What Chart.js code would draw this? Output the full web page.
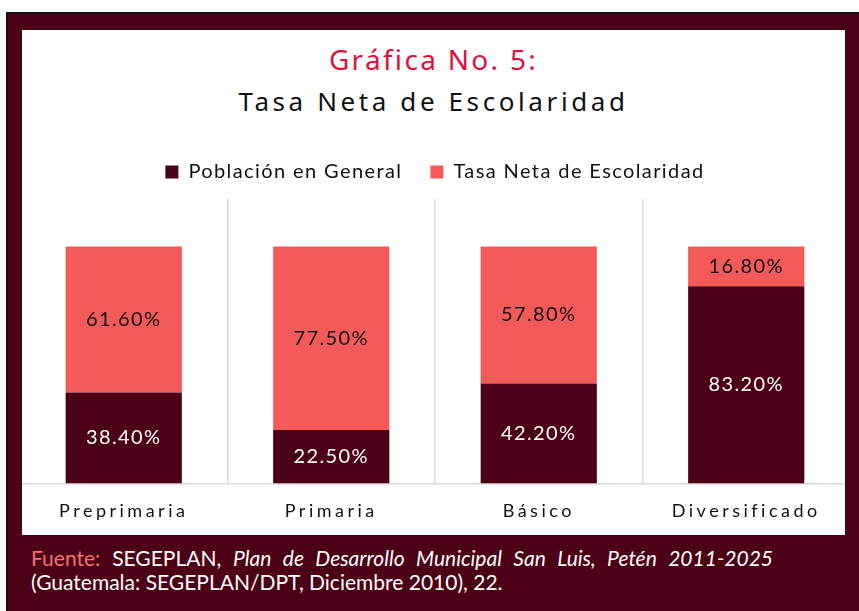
<!DOCTYPE html>
<html>
<head>
<meta charset="utf-8">
<script src="https://cdn.jsdelivr.net/npm/chart.js@4/dist/chart.umd.min.js"></script>
<style>
  html, body { margin: 0; padding: 0; background: #fff; }
  body { width: 859px; height: 611px; position: relative; overflow: hidden; }
  #frame {
    position: absolute; left: 6px; top: 12px; width: 860px; height: 610px;
    background: #4c0016; border-top: 2px solid #111; border-left: 2px solid #111;
    box-sizing: border-box;
  }
  #panel {
    position: absolute; left: 22px; top: 30px; width: 823px; height: 505px;
    background: #fff; overflow: hidden;
  }
  .title {
    position: absolute; left: 0; width: 100%; text-align: center;
    font-family: "Noto Sans", sans-serif; white-space: nowrap;
  }
  #t1 { top: 10px; font-size: 28px; color: #e0103c; letter-spacing: 2.3px; }
  #t2 { top: 53px; font-size: 26px; color: #111; letter-spacing: 3.6px; }
  #wrap { position: absolute; left: -2px; top: 92px; width: 830px; height: 429px; }
  #foot {
    position: absolute; left: 31px; top: 546px; width: 742px;
    font-family: Lato, sans-serif; font-size: 21px; line-height: 24px; color: #fff;
  }
  #foot .l1 { text-align: justify; text-align-last: justify; white-space: nowrap; }
  #foot .src { color: #f27272; }
</style>
</head>
<body>
<div id="frame"></div>
<div id="panel">
  <div class="title" id="t1">Gráfica No. 5:</div>
  <div class="title" id="t2">Tasa Neta de Escolaridad</div>
  <div id="wrap"><canvas id="grafica"></canvas></div>
</div>
<div id="foot">
  <div class="l1"><span class="src">Fuente:</span> SEGEPLAN, <i>Plan de Desarrollo Municipal San Luis, Petén 2011-2025</i></div>
  <div>(Guatemala: SEGEPLAN/DPT, Diciembre 2010), 22.</div>
</div>

<script>
const niveles = ['Preprimaria', 'Primaria', 'Básico', 'Diversificado'];
const poblacionGeneral = [38.4, 22.5, 42.2, 83.2];
const tasaNeta = [61.6, 77.5, 57.8, 16.8];

const granate = '#4c0016';
const salmon = '#f45a5a';

// etiquetas de porcentaje centradas en cada segmento
const etiquetas = {
  id: 'etiquetas',
  afterDatasetsDraw(chart) {
    const ctx = chart.ctx;
    ctx.save();
    ctx.font = '20px Lato, sans-serif';
    ctx.textAlign = 'center';
    ctx.textBaseline = 'middle';
    chart.data.datasets.forEach((ds, i) => {
      chart.getDatasetMeta(i).data.forEach((bar, j) => {
        const p = bar.getCenterPoint();
        ctx.fillStyle = i === 0 ? '#fff' : '#111';
        ctx.fillText(ds.data[j].toFixed(2) + '%', p.x, p.y);
      });
    });
    ctx.restore();
  }
};

// texto algo más espaciado en todo el lienzo, y más aún en los niveles
const espaciado = {
  id: 'espaciado',
  beforeUpdate(chart) {
    chart.ctx.letterSpacing = '1.4px';
  },
  afterUpdate(chart) {
    const x = chart.scales.x;
    if (x._espaciado) return;
    const orig = x.drawLabels;
    x.drawLabels = function (area) {
      this.ctx.save();
      this.ctx.letterSpacing = '3.5px';
      orig.call(this, area);
      this.ctx.restore();
    };
    x._espaciado = true;
  }
};

// un poco más de aire entre la leyenda y las barras
const separaLeyenda = {
  id: 'separaLeyenda',
  beforeInit(chart) {
    const fit = chart.legend.fit;
    chart.legend.fit = function () {
      fit.call(this);
      this.height += 7;
    };
  }
};

new Chart(document.getElementById('grafica'), {
  type: 'bar',
  data: {
    labels: niveles,
    datasets: [
      {
        label: 'Población en General',
        data: poblacionGeneral,
        backgroundColor: granate,
        categoryPercentage: 1,
        barPercentage: 0.56
      },
      {
        label: 'Tasa Neta de Escolaridad',
        data: tasaNeta,
        backgroundColor: salmon,
        categoryPercentage: 1,
        barPercentage: 0.56
      }
    ]
  },
  options: {
    responsive: true,
    maintainAspectRatio: false,
    animation: false,
    layout: { padding: { top: 12, bottom: 12, left: 0, right: 0 } },
    scales: {
      x: {
        stacked: true,
        grid: { color: '#d9d9d9', lineWidth: 1.5, drawTicks: false },
        border: { color: '#d9d9d9', width: 1.5 },
        ticks: { color: '#111', padding: 17, font: { family: 'Lato, sans-serif', size: 18 } }
      },
      y: {
        stacked: true,
        display: false,
        min: 0,
        max: 120
      }
    },
    plugins: {
      legend: {
        labels: {
          color: '#111',
          boxWidth: 13,
          boxHeight: 13,
          padding: 28,
          font: { family: 'Lato, sans-serif', size: 20 }
        }
      },
      tooltip: { enabled: false }
    }
  },
  plugins: [etiquetas, espaciado, separaLeyenda]
});
</script>
</body>
</html>
